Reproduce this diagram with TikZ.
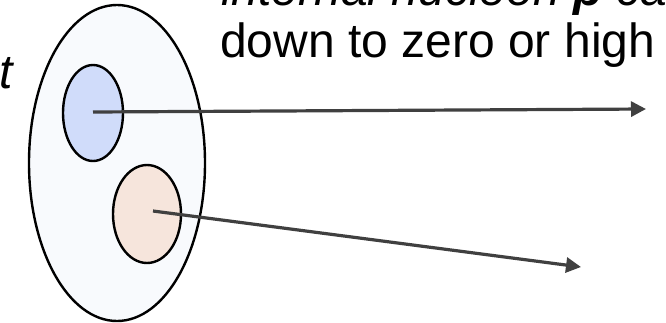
\documentclass[tikz,border=0pt]{standalone}
\usepackage{fontspec}
\setmainfont{Liberation Sans}
\usetikzlibrary{arrows.meta,shapes.geometric}
\definecolor{outerfill}{HTML}{F8FAFD}
\definecolor{bluefill}{HTML}{D0DCFA}
\definecolor{orangefill}{HTML}{F6E5DC}
\definecolor{arrowgray}{HTML}{404040}
\tikzset{
  blob/.style={draw=black, line width=2.4pt, ellipse, inner sep=0pt},
  connector/.style={draw=arrowgray, line width=3.2pt, -{Triangle[length=15pt,width=15pt]}},
  txt/.style={inner sep=0pt, font=\fontsize{48}{56}\selectfont}
}
\begin{document}
\begin{tikzpicture}[x=1pt,y=-1pt]
\useasboundingbox (0,0) rectangle (666,322);
\clip (0,0) rectangle (666,322);
\fill[white] (0,0) rectangle (666,322);
% ellipses
\node[blob, fill=outerfill, minimum width=176pt, minimum height=316pt] (outer) at (117,163) {};
\node[blob, fill=bluefill, minimum width=60pt, minimum height=96pt] (blue) at (93,113) {};
\node[blob, fill=orangefill, minimum width=68pt, minimum height=98pt] (orange) at (147,214) {};
% connectors
\coordinate (s1) at (93,112);
\coordinate (e1) at (646,109);
\coordinate (s2) at (153,211);
\coordinate (e2) at (581,267);
\draw[connector] (s1) -- (e1);
\draw[connector] (s2) -- (e2);
% texts
\node[txt, anchor=base west] (line1) at (221,5) {\itshape internal nucleon {\bfseries p} can};
\node[txt, anchor=base west] (line2) at (220,57) {down to zero or high};
\node[txt, anchor=base east] (tt) at (13,88) {\itshape t};
\end{tikzpicture}
\end{document}
